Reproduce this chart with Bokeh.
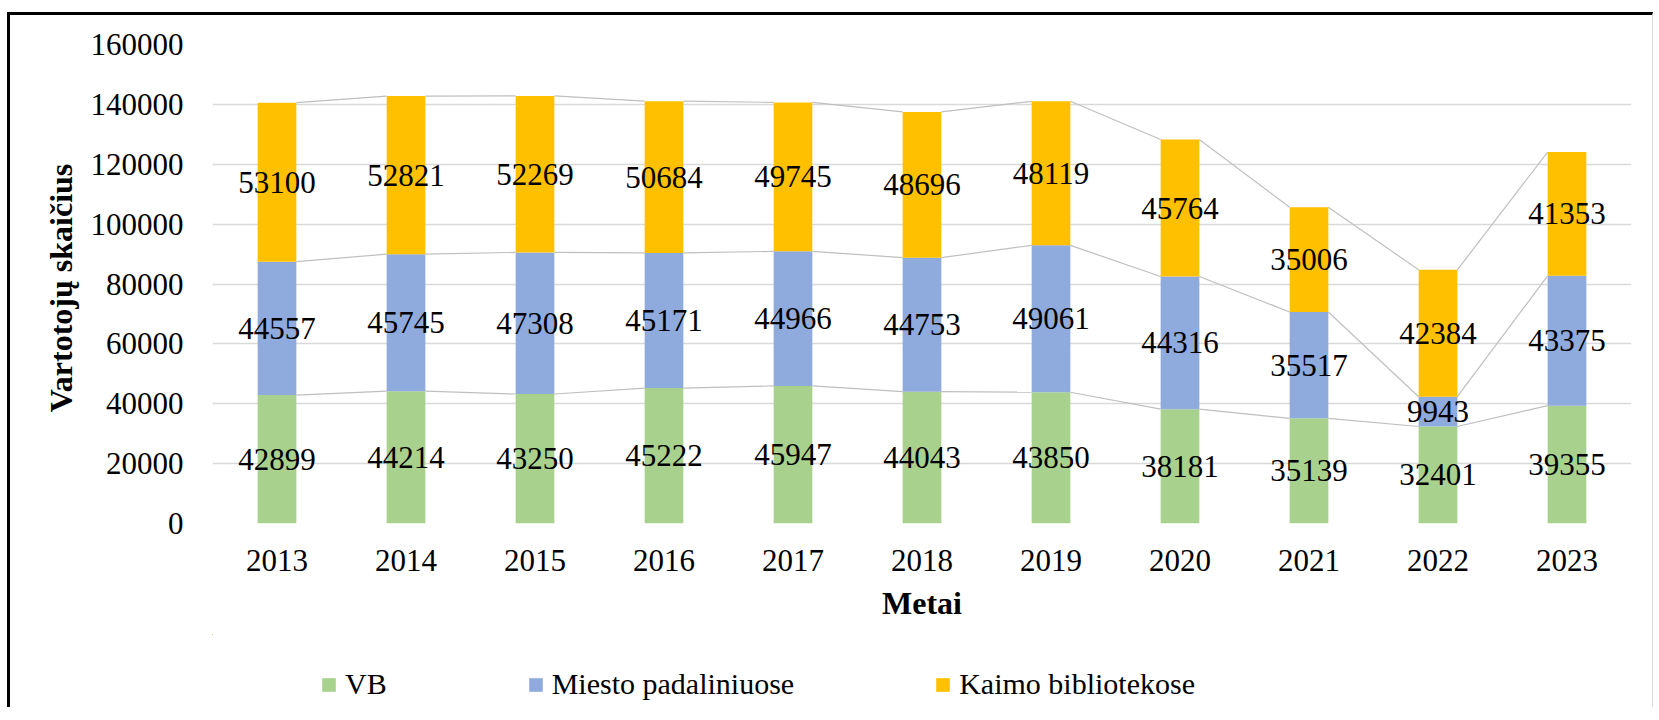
import numpy as np
from bokeh.plotting import figure
from bokeh.layouts import column
from bokeh.models import (ColumnDataSource, Range1d, FixedTicker, NumeralTickFormatter,
                          Legend, LegendItem)
from bokeh.core.properties import value
from bokeh.embed import file_html
from bokeh.resources import INLINE

years = ["2013", "2014", "2015", "2016", "2017", "2018", "2019", "2020", "2021", "2022", "2023"]
vb = [42899, 44214, 43250, 45222, 45947, 44043, 43850, 38181, 35139, 32401, 39355]
miesto = [44557, 45745, 47308, 45171, 44966, 44753, 49061, 44316, 35517, 9943, 43375]
kaimo = [53100, 52821, 52269, 50684, 49745, 48696, 48119, 45764, 35006, 42384, 41353]
series_names = ["VB", "Miesto padaliniuose", "Kaimo bibliotekose"]
colors = ["#a9d18e", "#8faadc", "#ffc000"]
y_ticks = [0, 20000, 40000, 60000, 80000, 100000, 120000, 140000, 160000]

FONT = "Liberation Serif"
BAR_W = 0.30

idx = np.arange(len(years))
vb_a = np.array(vb)
mi_a = np.array(miesto)
ka_a = np.array(kaimo)
top1 = vb_a
top2 = vb_a + mi_a
top3 = vb_a + mi_a + ka_a

src = ColumnDataSource(dict(x=idx, vb=vb_a, miesto=mi_a, kaimo=ka_a))

W, H1, H2 = 1646, 622, 73
p = figure(width=W, height=H1, output_backend="svg", toolbar_location=None,
           x_range=Range1d(-0.5, len(years) - 0.5), y_range=Range1d(0, 160000),
           min_border_left=202, min_border_right=25, min_border_top=29, min_border_bottom=114,
           styles={"margin-top": "12px", "border-left": "3px solid black",
                   "border-top": "3px solid black", "border-right": "1px solid #d9d9d9"})
p.outline_line_color = None
p.background_fill_color = "white"
p.border_fill_color = "white"

# series lines
for lvl in (top1, top2, top3):
    p.segment(x0=idx[:-1] + BAR_W / 2, y0=lvl[:-1], x1=idx[1:] - BAR_W / 2, y1=lvl[1:],
              line_color="#bfbfbf", line_width=1.2)

p.vbar_stack(["vb", "miesto", "kaimo"], x="x", width=BAR_W, color=colors,
             line_color=None, source=src)

# data labels
lab_x = np.concatenate([idx, idx, idx])
lab_y = np.concatenate([vb_a / 2, top1 + mi_a / 2, top2 + ka_a / 2])
lab_t = [str(v) for v in list(vb) + list(miesto) + list(kaimo)]
p.text(x=lab_x, y=lab_y, text=lab_t, text_align="center", text_baseline="middle",
       text_font=value(FONT), text_font_size="31px", text_color="black")

# axes
p.xaxis.ticker = FixedTicker(ticks=list(idx))
p.xaxis.major_label_overrides = {int(i): y for i, y in zip(idx, years)}
p.yaxis.ticker = FixedTicker(ticks=y_ticks)
p.yaxis.formatter = NumeralTickFormatter(format="0")
for ax in (p.xaxis[0], p.yaxis[0]):
    ax.axis_line_color = None
    ax.major_tick_line_color = None
    ax.minor_tick_line_color = None
    ax.major_tick_out = 0
    ax.major_tick_in = 0
    ax.major_label_text_font = FONT
    ax.major_label_text_font_size = "31px"
    ax.major_label_text_color = "black"
    ax.axis_label_text_font = FONT
    ax.axis_label_text_font_style = "bold"
    ax.axis_label_text_color = "black"
p.yaxis.major_label_standoff = 29
p.xaxis.major_label_standoff = 26
p.xaxis.axis_label = "Metai"
p.xaxis.axis_label_text_font_size = "32px"
p.xaxis.axis_label_standoff = 11
p.yaxis.axis_label = "Vartotojų  skaičius"
p.yaxis.axis_label_text_font_size = "32px"
p.yaxis.axis_label_standoff = 9

p.xgrid.grid_line_color = None
p.ygrid.grid_line_color = "#d9d9d9"
p.ygrid.grid_line_width = 1.5

# legend strip (same data, renderers kept far out of view so only the legend shows)
p2 = figure(width=W, height=H2, output_backend="svg", toolbar_location=None,
            x_range=Range1d(1000, 1011), y_range=Range1d(-2e6, -1e6),
            min_border_left=0, min_border_right=0, min_border_top=0, min_border_bottom=0,
            styles={"border-left": "3px solid black", "border-right": "1px solid #d9d9d9"})
p2.axis.visible = False
p2.grid.visible = False
p2.outline_line_color = None
p2.border_fill_color = "white"
rs = p2.vbar_stack(["vb", "miesto", "kaimo"], x="x", width=BAR_W, color=colors,
                   line_color=None, source=src)
legend = Legend(items=[LegendItem(label=n, renderers=[r]) for n, r in zip(series_names, rs)],
                orientation="horizontal", location=(108, 6),
                label_text_font=FONT, label_text_font_size="30px", label_text_color="black",
                glyph_width=17, glyph_height=17, label_standoff=8, spacing=140,
                padding=0, margin=0, border_line_color=None, background_fill_alpha=0)
p2.add_layout(legend, "center")

layout = column(p, p2, spacing=0, styles={"margin-left": "7px"})

open("out.html", "w").write(file_html(layout, INLINE))
